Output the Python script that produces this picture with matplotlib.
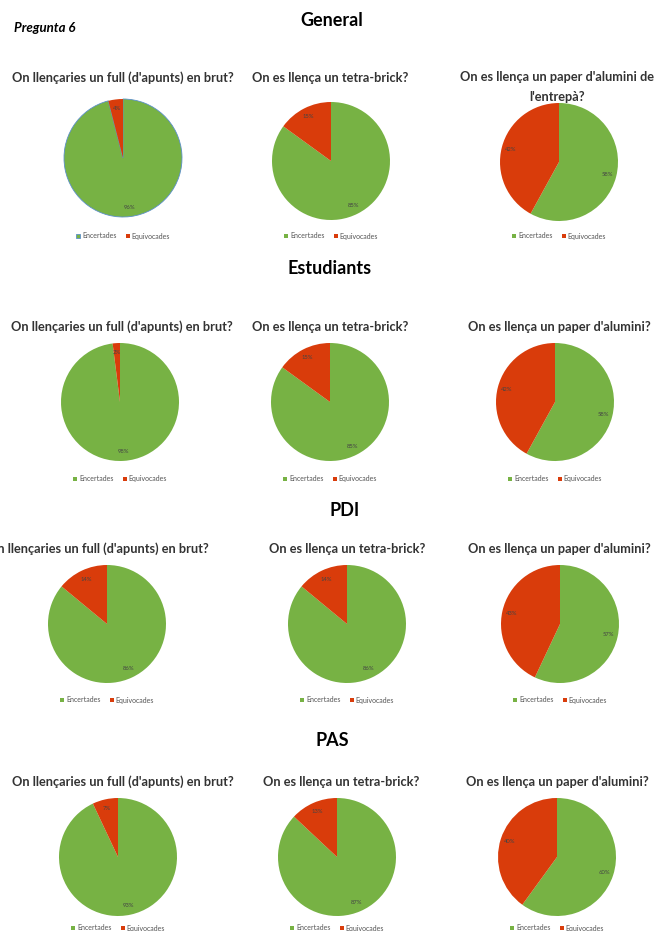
import matplotlib
matplotlib.use("Agg")
import matplotlib.pyplot as plt

W, H = 654, 931

groups = ["General", "Estudiants", "PDI", "PAS"]
questions = [
    ["On llençaries un full (d'apunts) en brut?", "On es llença un tetra-brick?",
     "On es llença un paper d'alumini de\nl'entrepà?"],
    ["On llençaries un full (d'apunts) en brut?", "On es llença un tetra-brick?",
     "On es llença un paper d'alumini?"],
    ["On llençaries un full (d'apunts) en brut?", "On es llença un tetra-brick?",
     "On es llença un paper d'alumini?"],
    ["On llençaries un full (d'apunts) en brut?", "On es llença un tetra-brick?",
     "On es llença un paper d'alumini?"],
]
categories = ["Encertades", "Equivocades"]
encertades = [[96, 85, 58], [98, 85, 58], [86, 86, 57], [93, 87, 60]]
equivocades = [[4, 15, 42], [2, 15, 42], [14, 14, 43], [7, 13, 40]]

# layout (pixels)
header_pos = [(332, 20), (330, 268), (345, 510), (332, 740)]
title_y = [78, 327, 549, 782]
title_x = [[123, 330, 557], [122, 330, 559], [98, 347, 559], [123, 341, 557]]
pie_cy = [[158, 161, 162], [402, 402, 402], [624, 624, 624], [857, 857, 857]]
pie_cx = [[123, 331, 559], [120, 330, 555], [107, 347, 560], [118, 337, 557]]
pie_r = 59
legend_y = [236, 479, 700, 928]

GREEN = "#77B244"
RED = "#D93C0B"
TXT = "#333333"

plt.rcParams["font.family"] = ["Lato", "DejaVu Sans"]

fig = plt.figure(figsize=(W / 100, H / 100), dpi=100)
fig.patch.set_facecolor("white")

fig.text(14 / W, 1 - 28 / H, "Pregunta 6", fontsize=9.5, fontweight="bold",
         style="italic", color="black", va="center", ha="left")

for g in range(4):
    hx, hy = header_pos[g]
    fig.text(hx / W, 1 - hy / H, groups[g], fontsize=13, fontweight="bold",
             color="black", ha="center", va="center")
    for q in range(3):
        two = "\n" in questions[g][q]
        ty = title_y[g] + (9 if two else 0)
        fig.text(title_x[g][q] / W, 1 - ty / H, questions[g][q],
                 fontsize=9.2, fontweight="bold", color=TXT, ha="center",
                 va="center", linespacing=1.75)
        cx, cy = pie_cx[g][q], pie_cy[g][q]
        r = pie_r
        ax = fig.add_axes([(cx - r) / W, 1 - (cy + r) / H, 2 * r / W, 2 * r / H])
        vals = [encertades[g][q], equivocades[g][q]]
        wedges, texts, autotexts = ax.pie(
            vals, colors=[GREEN, RED], startangle=90, counterclock=False,
            autopct="%d%%", pctdistance=0.84, radius=1.0,
            wedgeprops=dict(edgecolor="none", linewidth=0.6),
            textprops=dict(fontsize=4.2, color="#444444"))
        if g == 0 and q == 0:
            wedges[0].set_edgecolor("#5B8FC9")
        ax.set_xlim(-1.0, 1.0)
        ax.set_ylim(-1.0, 1.0)
        ax.set_aspect("auto")
        ax.axis("off")
        leg = fig.legend(wedges, categories, loc="center",
                         bbox_to_anchor=(cx / W, 1 - legend_y[g] / H),
                         ncol=2, frameon=False, fontsize=5,
                         handlelength=0.6, handleheight=0.6,
                         columnspacing=1.3, handletextpad=0.3)
        for t in leg.get_texts():
            t.set_color("#555555")

fig.savefig("out.png", dpi=100, facecolor="white")
